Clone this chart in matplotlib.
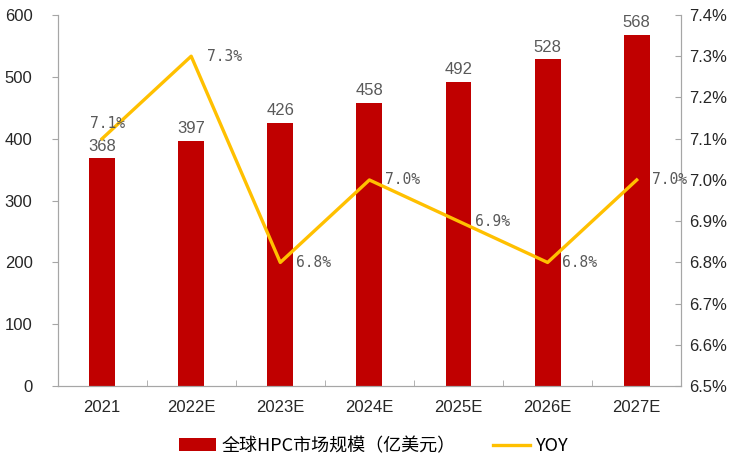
import matplotlib
matplotlib.use('Agg')
import matplotlib.pyplot as plt
from matplotlib.ticker import FixedLocator

plt.rcParams['font.family'] = ['Liberation Sans', 'Noto Sans CJK SC']

years = ['2021', '2022E', '2023E', '2024E', '2025E', '2026E', '2027E']
market = [368, 397, 426, 458, 492, 528, 568]
yoy = [7.1, 7.3, 6.8, 7.0, 6.9, 6.8, 7.0]

bar_color = '#C00000'
line_color = '#FFC000'
grey = '#595959'
spine_grey = '#A6A6A6'

fig = plt.figure(figsize=(7.47, 4.67), dpi=100)
ax = fig.add_axes([0.077, 0.173, 0.835, 0.795])
ax2 = ax.twinx()

x = list(range(len(years)))
bars = ax.bar(x, market, width=0.29, color=bar_color, zorder=2)
line, = ax2.plot(x, yoy, color=line_color, linewidth=2.4, zorder=3)

ax.set_ylim(0, 600)
ax.set_yticks(range(0, 601, 100))
ax.set_xlim(-0.5, len(years) - 0.5)
ax.set_xticks(x)
ax.set_xticklabels(years)
ax.xaxis.set_minor_locator(FixedLocator([i + 0.5 for i in range(-1, len(years))]))
ax2.set_ylim(6.5, 7.4)
ax2.set_yticks([6.5 + 0.1 * i for i in range(10)])
ax2.set_yticklabels(['%.1f%%' % (6.5 + 0.1 * i) for i in range(10)])

for a in (ax, ax2):
    a.spines['top'].set_visible(False)
    for s in ('left', 'right', 'bottom'):
        a.spines[s].set_color(spine_grey)
ax.tick_params(axis='y', labelsize=12, colors=spine_grey, labelcolor='#262626', length=4, pad=14)
ax.tick_params(axis='x', which='major', labelsize=12, length=0, pad=10, labelcolor='#262626')
ax.tick_params(axis='x', which='minor', direction='in', length=4, color=spine_grey)
ax2.tick_params(axis='y', labelsize=12, colors=spine_grey, labelcolor='#262626',
                direction='in', length=4, pad=6)

# bar values
for xi, v in zip(x, market):
    ax.text(xi, v + 7, str(v), ha='center', va='bottom', fontsize=12, color=grey)

# yoy labels
offsets = [(-0.13, 0.036), (0.18, 0.0), (0.18, 0.0), (0.17, 0.0), (0.18, 0.0), (0.16, 0.0), (0.17, 0.0)]
for xi, v, (dx, dy) in zip(x, yoy, offsets):
    ax2.text(xi + dx, v + dy, '%.1f%%' % v, ha='left', va='center', fontsize=10.5,
             color=grey, family=['DejaVu Sans Mono'])

fig.legend(handles=[bars, line], labels=['全球HPC市场规模（亿美元）', 'YOY'],
           loc='center', bbox_to_anchor=(0.5, 0.045), ncol=2, frameon=False,
           handlelength=2.05, handletextpad=0.3, columnspacing=2.1,
           prop={'family': ['Noto Sans CJK SC', 'DejaVu Sans'], 'size': 13})

fig.savefig('out.png', dpi=100)
